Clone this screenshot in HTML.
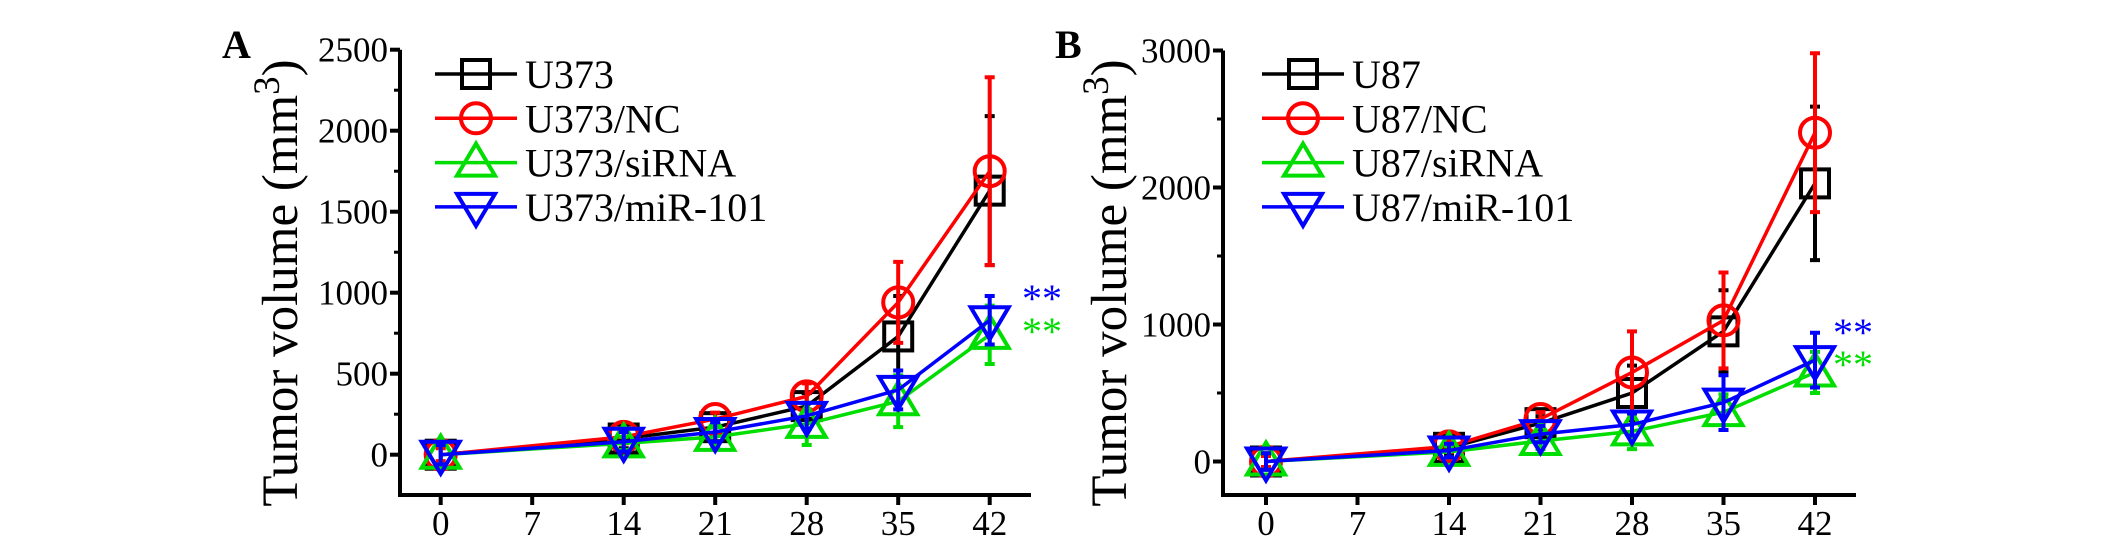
<!DOCTYPE html>
<html><head><meta charset="utf-8"><style>
html,body{margin:0;padding:0;background:#fff;}
svg{display:block;font-family:"Liberation Serif",serif;}
</style></head><body>
<svg id="chart" width="2126" height="544" viewBox="0 0 2126 544" xmlns="http://www.w3.org/2000/svg"></svg>
<script>
const days = [0, 14, 21, 28, 35, 42];
const xTicks = [0, 7, 14, 21, 28, 35, 42];
const seriesNamesA = ["U373", "U373/NC", "U373/siRNA", "U373/miR-101"];
const seriesNamesB = ["U87", "U87/NC", "U87/siRNA", "U87/miR-101"];
const aCtrl = [0, 100, 170, 300, 730, 1630];
const aCtrlErr = [60, 60, 50, 80, 250, 460];
const aNC = [0, 110, 220, 360, 940, 1750];
const aNCErr = [40, 40, 40, 80, 250, 580];
const aSi = [0, 70, 110, 190, 330, 740];
const aSiErr = [60, 40, 60, 130, 160, 180];
const aMiR = [0, 80, 140, 240, 400, 830];
const aMiRErr = [60, 60, 60, 80, 120, 150];
const bCtrl = [0, 100, 280, 500, 950, 2030];
const bCtrlErr = [60, 50, 50, 200, 300, 560];
const bNC = [0, 110, 310, 650, 1030, 2400];
const bNCErr = [40, 40, 50, 300, 350, 580];
const bSi = [0, 70, 150, 220, 360, 650];
const bSiErr = [60, 40, 60, 130, 130, 150];
const bMiR = [0, 80, 200, 270, 430, 740];
const bMiRErr = [60, 50, 60, 80, 200, 200];
const yTicksA = [0, 500, 1000, 1500, 2000, 2500];
const yTicksB = [0, 1000, 2000, 3000];

const NS = "http://www.w3.org/2000/svg";
const svg = document.getElementById("chart");
function el(tag, attrs, parent) {
  const e = document.createElementNS(NS, tag);
  for (const k in attrs) e.setAttribute(k, attrs[k]);
  (parent || svg).appendChild(e);
  return e;
}
const colors = ["#000000", "#ff0000", "#00dd00", "#0000ff"];
const shapes = ["square", "circle", "up", "down"];

function marker(g, shape, cx, cy, color) {
  let m;
  if (shape === "square") m = el("rect", {x: cx-14, y: cy-14, width: 28, height: 28, fill: "none", stroke: color, "stroke-width": 4}, g);
  else if (shape === "circle") m = el("circle", {cx: cx, cy: cy, r: 15, fill: "none", stroke: color, "stroke-width": 4}, g);
  else if (shape === "up") m = el("polygon", {points: `${cx},${cy-19} ${cx-19},${cy+13} ${cx+19},${cy+13}`, fill: "none", stroke: color, "stroke-width": 4}, g);
  else m = el("polygon", {points: `${cx},${cy+19} ${cx-19},${cy-13} ${cx+19},${cy-13}`, fill: "none", stroke: color, "stroke-width": 4}, g);
  return m;
}

function panel(opt) {
  const g = el("g", {});
  
  
  const xS = d => opt.x0 + d * 91.5 / 7;
  const yS = v => opt.y0 - v * opt.ppu;
  const axX = opt.axisX, axBottom = 495;
  const lt = el("text", {x: opt.letterX, y: 58, "font-size": 40, "font-weight": "bold"}, g);
  lt.textContent = opt.letter;
  
  
  const ax = el("path", {d: `M${axX},${yS(opt.yMax)} V${axBottom} H${opt.axisEnd}`, fill: "none", stroke: "#000", "stroke-width": 4}, g);
  
  
  const step = opt.yTicks[1] - opt.yTicks[0];
  opt.yTicks.forEach(v => {
    const y = yS(v);
    el("line", {x1: axX-10, x2: axX, y1: y, y2: y, stroke: "#000", "stroke-width": 4}, g);
    const t = el("text", {x: axX-12, y: y+12, "font-size": 35, "text-anchor": "end"}, g);
    t.textContent = v;
    
    
  });
  for (let v = step/2; v < opt.yMax; v += step) {
    const y = yS(v);
    el("line", {x1: axX-6, x2: axX, y1: y, y2: y, stroke: "#000", "stroke-width": 3}, g);
  }
  xTicks.forEach(d => {
    const x = xS(d);
    el("line", {x1: x, x2: x, y1: axBottom, y2: axBottom+10, stroke: "#000", "stroke-width": 4}, g);
    const t = el("text", {x: x, y: 535, "font-size": 35, "text-anchor": "middle"}, g);
    t.textContent = d;
    
    
  });
  const yt = el("text", {x: 0, y: 0, "font-size": 51, "text-anchor": "middle", transform: `translate(${opt.titleX},283) rotate(-90)`}, g);
  yt.innerHTML = 'Tumor volume (mm<tspan dy="-18" font-size="37">3</tspan><tspan dy="18">)</tspan>';
  
  
  opt.series.forEach((s, i) => {
    const sg = el("g", {}, g);
    
    
    const c = colors[i];
    days.forEach((d, j) => {
      const x = xS(d), v = s.v[j], e = s.e[j];
      const eb = el("path", {d: `M${x},${yS(v+e)} V${yS(v-e)} M${x-5},${yS(v+e)} H${x+5} M${x-5},${yS(v-e)} H${x+5}`, stroke: c, "stroke-width": 4, fill: "none"}, sg);
      
      
    });
    const pl = el("polyline", {points: days.map((d, j) => xS(d) + "," + yS(s.v[j])).join(" "), fill: "none", stroke: c, "stroke-width": 3.5}, sg);
    
    
    days.forEach((d, j) => {
      const m = marker(sg, shapes[i], xS(d), yS(s.v[j]), c);
      
      
    });
  });
  opt.names.forEach((n, i) => {
    const ly = 74 + i * 44.3;
    const lg = el("g", {}, g);
    
    
    el("line", {x1: opt.legX, x2: opt.legX+82, y1: ly, y2: ly, stroke: colors[i], "stroke-width": 3.5}, lg);
    marker(lg, shapes[i], opt.legX+41, ly, colors[i]);
    const t = el("text", {x: opt.legX+90, y: ly+14, "font-size": 40}, lg);
    t.textContent = n;
  });
  const a1 = el("text", {x: opt.astX, y: opt.astY1, "font-size": 40, fill: "#0000ff"}, g);
  a1.textContent = "**";
  
  
  const a2 = el("text", {x: opt.astX, y: opt.astY2, "font-size": 40, fill: "#00dd00"}, g);
  a2.textContent = "**";
  
  
}

panel({name: "panel-a", letter: "A", letterX: 222, axisX: 400, axisEnd: 1031, x0: 440.7, y0: 454.7, ppu: 81/500, yMax: 2500, yTicks: yTicksA, titleX: 297, legX: 435,
  names: seriesNamesA, astX: 1022, astY1: 312, astY2: 345,
  series: [{v: aCtrl, e: aCtrlErr}, {v: aNC, e: aNCErr}, {v: aSi, e: aSiErr}, {v: aMiR, e: aMiRErr}]});
panel({name: "panel-b", letter: "B", letterX: 1055, axisX: 1223, axisEnd: 1856, x0: 1266, y0: 461.5, ppu: 137/1000, yMax: 3000, yTicks: yTicksB, titleX: 1126, legX: 1262,
  names: seriesNamesB, astX: 1833, astY1: 346, astY2: 378,
  series: [{v: bCtrl, e: bCtrlErr}, {v: bNC, e: bNCErr}, {v: bSi, e: bSiErr}, {v: bMiR, e: bMiRErr}]});
</script>
</body></html>
